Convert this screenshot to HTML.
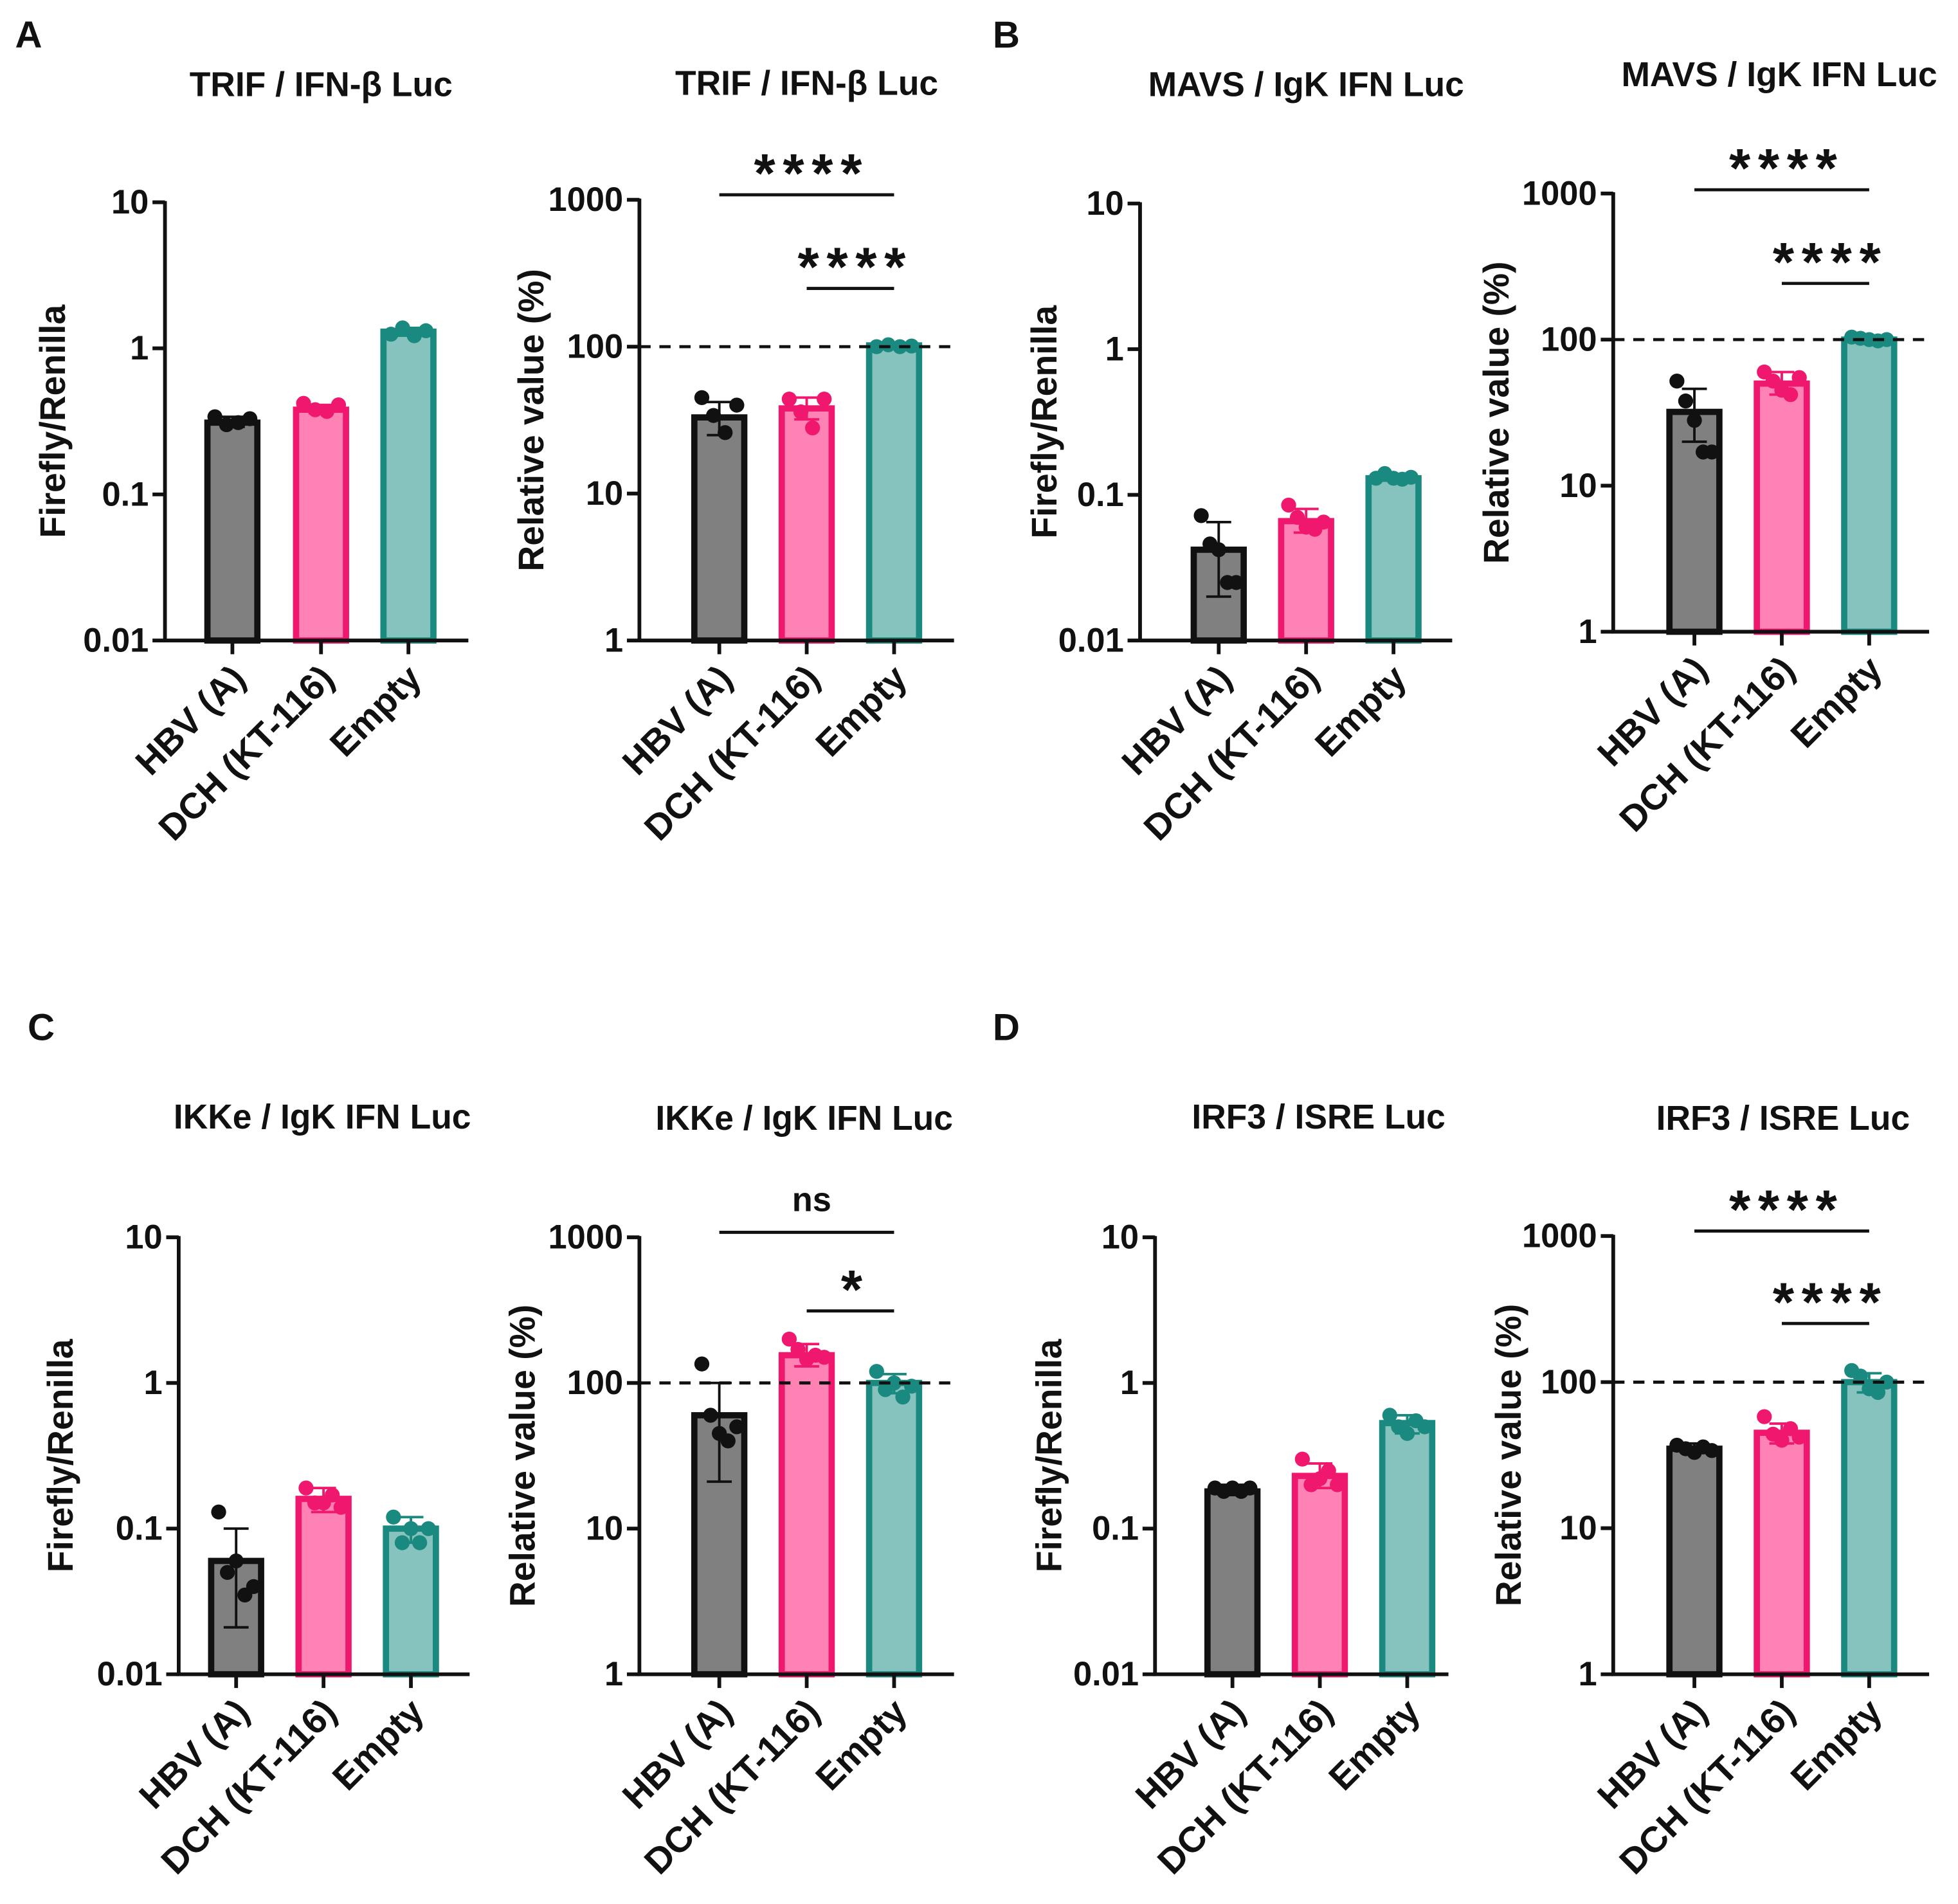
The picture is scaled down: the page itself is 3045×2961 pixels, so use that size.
<!DOCTYPE html>
<html><head><meta charset="utf-8">
<style>
html,body{margin:0;padding:0;background:#fff;}
svg{display:block;}
text{font-family:"Liberation Sans",Arial,sans-serif;font-weight:bold;fill:#111;}
</style></head>
<body>
<svg id="fig" width="3045" height="2961" viewBox="0 0 1568 1525" xmlns="http://www.w3.org/2000/svg">
<text x="12" y="38" font-size="30">A</text>
<text x="795" y="38" font-size="30">B</text>
<text x="22" y="833" font-size="30">C</text>
<text x="795" y="833" font-size="30">D</text>
</svg>
<script>
const categories = ["HBV (A)", "DCH (KT-116)", "Empty"];
// Panel A
const aLeftMeans = [0.31, 0.38, 1.3];
const aLeftPts = [[0.34,0.30,0.31,0.33],[0.42,0.38,0.37,0.41],[1.25,1.38,1.22,1.32]];
const aLeftErr = [[0.29,0.34],[0.36,0.41],[1.22,1.38]];
const aRightMeans = [33, 38, 102];
const aRightPts = [[45,34,26,40],[44,36,28,44],[100,103,100,101]];
const aRightErr = [[25,42],[32,45],[99,104]];
// Panel B
const bLeftMeans = [0.042, 0.066, 0.13];
const bLeftPts = [[0.072,0.046,0.042,0.025,0.025],[0.085,0.07,0.06,0.058,0.065],[0.13,0.14,0.13,0.128,0.132]];
const bLeftErr = [[0.02,0.065],[0.055,0.08],[0.125,0.137]];
const bRightMeans = [32, 50, 100];
const bRightPts = [[52,38,28,17,17],[60,52,45,42,55],[104,102,100,98,100]];
const bRightErr = [[20,46],[42,60],[97,104]];
// Panel C
const cLeftMeans = [0.06, 0.16, 0.10];
const cLeftPts = [[0.13,0.05,0.06,0.035,0.04],[0.19,0.15,0.15,0.17,0.14],[0.12,0.08,0.1,0.08,0.1]];
const cLeftErr = [[0.021,0.1],[0.13,0.19],[0.08,0.12]];
const cRightMeans = [60, 155, 100];
const cRightPts = [[135,60,45,40,50],[200,170,145,155,150],[120,90,100,80,95]];
const cRightErr = [[21,100],[130,185],[85,115]];
// Panel D
const dLeftMeans = [0.18, 0.23, 0.53];
const dLeftPts = [[0.19,0.18,0.19,0.18,0.19],[0.3,0.2,0.22,0.25,0.2],[0.6,0.5,0.45,0.55,0.5]];
const dLeftErr = [[0.17,0.2],[0.19,0.28],[0.45,0.6]];
const dRightMeans = [35, 45, 100];
const dRightPts = [[37,35,33,36,34],[58,44,40,48,42],[120,110,90,85,100]];
const dRightErr = [[33,38],[38,52],[85,115]];
const leftTicks = ["0.01","0.1","1","10"];
const rightTicks = ["1","10","100","1000"];

const NS = "http://www.w3.org/2000/svg";
const svg = document.getElementById('fig');
function el(tag, attrs, parent, txt){
  const e = document.createElementNS(NS, tag);
  for (const k in attrs) e.setAttribute(k, attrs[k]);
  if (txt !== undefined) e.textContent = txt;
  (parent||svg).appendChild(e);
  return e;
}
const fills = ["#808080","#ff82b4","#86c2be"];
const strokes = ["#111111","#f0186e","#1a8a80"];

function panel(cfg){
  const g = el('g', {});
  
  
  const lo = Math.log10(cfg.min), hi = Math.log10(cfg.max);
  const y = v => cfg.y0 + (Math.log10(v) - lo) / (hi - lo) * (cfg.y1 - cfg.y0);
  const t = el('text', {x: cfg.tx, y: cfg.ty, 'font-size': 27.5, 'text-anchor': 'middle'}, g, cfg.title);
  
  
  const yl = el('text', {x: 0, y: 0, 'font-size': 28.5, 'text-anchor': 'middle', transform: `translate(${cfg.ylx},${(cfg.y0+cfg.y1)/2}) rotate(-90)`}, g, cfg.ylabel);
  
  
  cfg.means.forEach((m, i) => {
    const cx = cfg.cx[i];
    const top = y(m);
    const b = el('rect', {x: cx - 20, y: top, width: 40, height: cfg.y0 - top, fill: fills[i], stroke: strokes[i], 'stroke-width': 5}, g);
    
    
    const [e0, e1] = cfg.err[i];
    const ep = el('path', {d: `M${cx},${y(e0)}V${y(e1)}M${cx-10},${y(e0)}H${cx+10}M${cx-10},${y(e1)}H${cx+10}`, stroke: strokes[i], 'stroke-width': 2, fill: 'none'}, g);
    
    
    const pts = cfg.pts[i];
    const n = pts.length;
    pts.forEach((v, j) => {
      const off = n === 1 ? 0 : -14 + 28 * j / (n - 1);
      const c = el('circle', {cx: cx + off, cy: y(v), r: 6, fill: strokes[i]}, g);
      
      
    });
  });
  if (cfg.dash) {
    const d = el('line', {x1: cfg.ax, x2: cfg.axEnd, y1: y(100), y2: y(100), stroke: '#111', 'stroke-width': 2.5, 'stroke-dasharray': '9,7'}, g);
    
    
  }
  const ax = el('path', {d: `M${cfg.ax},${cfg.y1-1}V${cfg.y0}H${cfg.axEnd}`, stroke: '#111', 'stroke-width': 3, fill: 'none'}, g);
  
  
  cfg.ticks.forEach((lab, k) => {
    const ty = y(Math.pow(10, lo + k));
    el('line', {x1: cfg.ax - 10, x2: cfg.ax, y1: ty, y2: ty, stroke: '#111', 'stroke-width': 3}, g);
    const tl = el('text', {x: cfg.ax - 13, y: ty + 9, 'font-size': 27, 'text-anchor': 'end'}, g, lab);
    
    
  });
  categories.forEach((c, i) => {
    const cx = cfg.cx[i];
    el('line', {x1: cx, x2: cx, y1: cfg.y0, y2: cfg.y0 + 11, stroke: '#111', 'stroke-width': 3}, g);
    const xl = el('text', {x: 0, y: 0, 'font-size': 29, 'text-anchor': 'end', transform: `translate(${cx+12},${cfg.y0+32}) rotate(-45)`}, g, c);
    
    
  });
  (cfg.sig || []).forEach(s => {
    const l = el('line', {x1: cfg.cx[s.a], x2: cfg.cx[s.b], y1: s.y, y2: s.y, stroke: '#111', 'stroke-width': 2.5}, g);
    
    
    const isNs = s.txt === 'ns';
    const st = el('text', {x: (cfg.cx[s.a] + cfg.cx[s.b]) / 2 + 4, y: s.y - (isNs ? 17 : 2), 'font-size': isNs ? 27 : 44, 'text-anchor': 'middle', 'letter-spacing': isNs ? 0 : 6}, g, s.txt);
    
    
  });
}

panel({name:'panel-a-left', title:'TRIF / IFN-β Luc', tx:257, ty:77, ylabel:'Firefly/Renilla', ylx:52, ax:132, axEnd:375, y0:513, y1:162, min:0.01, max:10, cx:[186,257,327], means:aLeftMeans, pts:aLeftPts, err:aLeftErr, ticks:leftTicks});
panel({name:'panel-a-right', title:'TRIF / IFN-β Luc', tx:646, ty:76, ylabel:'Relative value (%)', ylx:435, ax:512, axEnd:764, y0:513, y1:160, min:1, max:1000, cx:[576,646,716], means:aRightMeans, pts:aRightPts, err:aRightErr, ticks:rightTicks, dash:true, sig:[{a:0,b:2,y:156,txt:'****'},{a:1,b:2,y:231,txt:'****'}]});
panel({name:'panel-b-left', title:'MAVS / IgK IFN Luc', tx:1046, ty:77, ylabel:'Firefly/Renilla', ylx:846, ax:913, axEnd:1163, y0:513, y1:163, min:0.01, max:10, cx:[976,1046,1116], means:bLeftMeans, pts:bLeftPts, err:bLeftErr, ticks:leftTicks});
panel({name:'panel-b-right', title:'MAVS / IgK IFN Luc', tx:1425, ty:69, ylabel:'Relative value (%)', ylx:1208, ax:1292, axEnd:1545, y0:506, y1:155, min:1, max:1000, cx:[1357,1427,1497], means:bRightMeans, pts:bRightPts, err:bRightErr, ticks:rightTicks, dash:true, sig:[{a:0,b:2,y:152,txt:'****'},{a:1,b:2,y:227,txt:'****'}]});
panel({name:'panel-c-left', title:'IKKe / IgK IFN Luc', tx:258, ty:904, ylabel:'Firefly/Renilla', ylx:58, ax:143, axEnd:376, y0:1341, y1:991, min:0.01, max:10, cx:[189,259,329], means:cLeftMeans, pts:cLeftPts, err:cLeftErr, ticks:leftTicks});
panel({name:'panel-c-right', title:'IKKe / IgK IFN Luc', tx:644, ty:905, ylabel:'Relative value (%)', ylx:428, ax:512, axEnd:764, y0:1341, y1:991, min:1, max:1000, cx:[576,646,716], means:cRightMeans, pts:cRightPts, err:cRightErr, ticks:rightTicks, dash:true, sig:[{a:0,b:2,y:987,txt:'ns'},{a:1,b:2,y:1050,txt:'*'}]});
panel({name:'panel-d-left', title:'IRF3 / ISRE Luc', tx:1056, ty:904, ylabel:'Firefly/Renilla', ylx:850, ax:925, axEnd:1160, y0:1341, y1:991, min:0.01, max:10, cx:[987,1057,1127], means:dLeftMeans, pts:dLeftPts, err:dLeftErr, ticks:leftTicks});
panel({name:'panel-d-right', title:'IRF3 / ISRE Luc', tx:1428, ty:905, ylabel:'Relative value (%)', ylx:1218, ax:1292, axEnd:1545, y0:1341, y1:990, min:1, max:1000, cx:[1357,1427,1497], means:dRightMeans, pts:dRightPts, err:dRightErr, ticks:rightTicks, dash:true, sig:[{a:0,b:2,y:986,txt:'****'},{a:1,b:2,y:1060,txt:'****'}]});
</script>
</body></html>
